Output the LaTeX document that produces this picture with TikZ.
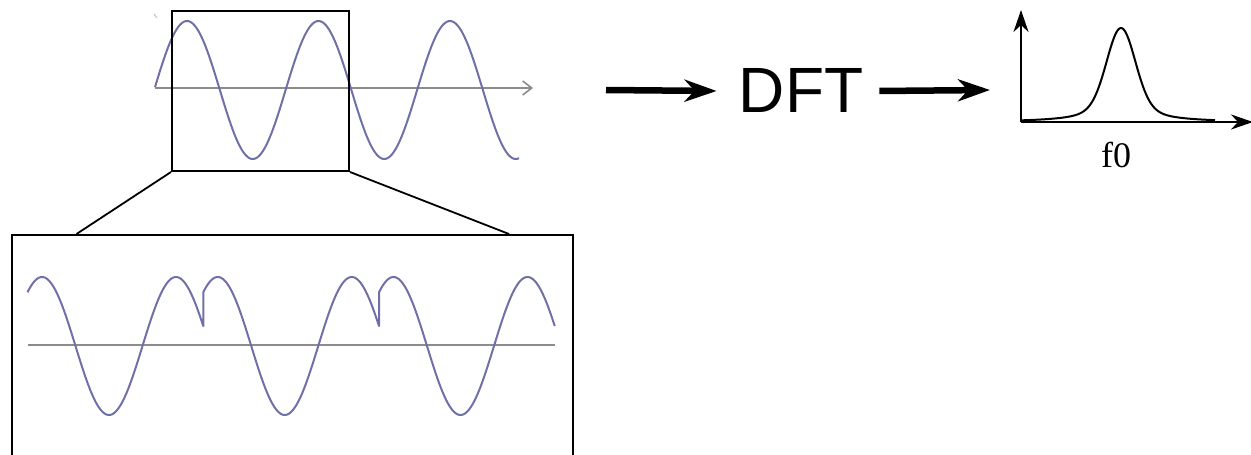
\documentclass[tikz,border=0pt]{standalone}
\usepackage{fontspec}
\setmainfont{Liberation Serif}
\newfontfamily\dftfont{Liberation Sans}
\usetikzlibrary{arrows.meta}
\definecolor{wave}{RGB}{112,112,168}
\definecolor{axisgray}{RGB}{140,140,140}
\begin{document}
\begin{tikzpicture}[x=1pt,y=-1pt,
  wavestyle/.style={wave,line width=2pt,line join=round},
  axisstyle/.style={axisgray,line width=1.6pt},
  boxstyle/.style={draw=black,line width=2pt,inner sep=0pt},
  zoomline/.style={black,line width=1.8pt},
  bigarrow/.style={black,line width=6.5pt,-{Stealth[length=32pt,width=22pt,inset=10pt]}},
  specaxis/.style={black,line width=2.5pt,-{Stealth[length=22pt,width=15pt,inset=7pt]}}]
\useasboundingbox (0,0) rectangle (1251,455);
\clip (0,0) rectangle (1251,455);
% top signal
\draw[axisstyle,-{Straight Barb[length=9pt,width=14pt]}] (155,88) -- (533,88);
\draw[wavestyle] plot[domain=155:519,samples=250,smooth] (\x,{90-69*cos((\x-187)/131.5*360)});
\draw[gray!45,line width=1.2pt] (154,14) -- (157,18);
% zoom rectangle
\node[boxstyle,minimum width=177pt,minimum height=160pt,anchor=north west] (zr) at (171,10) {};
% enlarged box
\node[boxstyle,minimum width=561pt,minimum height=240pt,anchor=north west] (bx) at (11,234) {};
\coordinate (bl) at (76.5,234);
\coordinate (br) at (509,234);
\draw[zoomline] (zr.south west) -- (bl);
\draw[zoomline] (zr.south east) -- (br);
% bottom signal
\draw[axisstyle] (27.5,345) -- (555,345);
\draw[wavestyle]
  plot[domain=0:175.75,samples=150] ({27.5+\x},{346-69*cos((\x-14.5)/134*360)})
  -- plot[domain=0:175.75,samples=150] ({203.25+\x},{346-69*cos((\x-14.5)/134*360)})
  -- plot[domain=0:175.75,samples=150] ({379+\x},{346-69*cos((\x-14.5)/134*360)});
% DFT
\node[font=\dftfont\fontsize{64}{70}\selectfont,anchor=base,inner sep=0pt] (dft) at (801,112) {DFT};
\coordinate (a1) at (606,90);
\coordinate (a2e) at (990,90);
\draw[bigarrow] (a1) -- ([xshift=-22pt,yshift=-1pt]dft.west);
\draw[bigarrow] ([xshift=16pt,yshift=-1pt]dft.east) -- (a2e);
% spectrum
\coordinate (o) at (1021,122);
\coordinate (ytop) at (1021,10);
\coordinate (xend) at (1253,122);
\draw[specaxis] (o) -- (ytop);
\draw[specaxis] (o) -- (xend);
\draw[black,line width=2pt] plot[domain=1021:1215,samples=200,smooth]
  (\x,{122-94*(0.7*exp(-(((\x-1121)/20)^2))+0.3/(1+((\x-1121)/25)^2))});
\node[font=\fontsize{36}{40}\selectfont,anchor=base,inner sep=0pt] (f0) at (1116,167) {f0};
\end{tikzpicture}
\end{document}
